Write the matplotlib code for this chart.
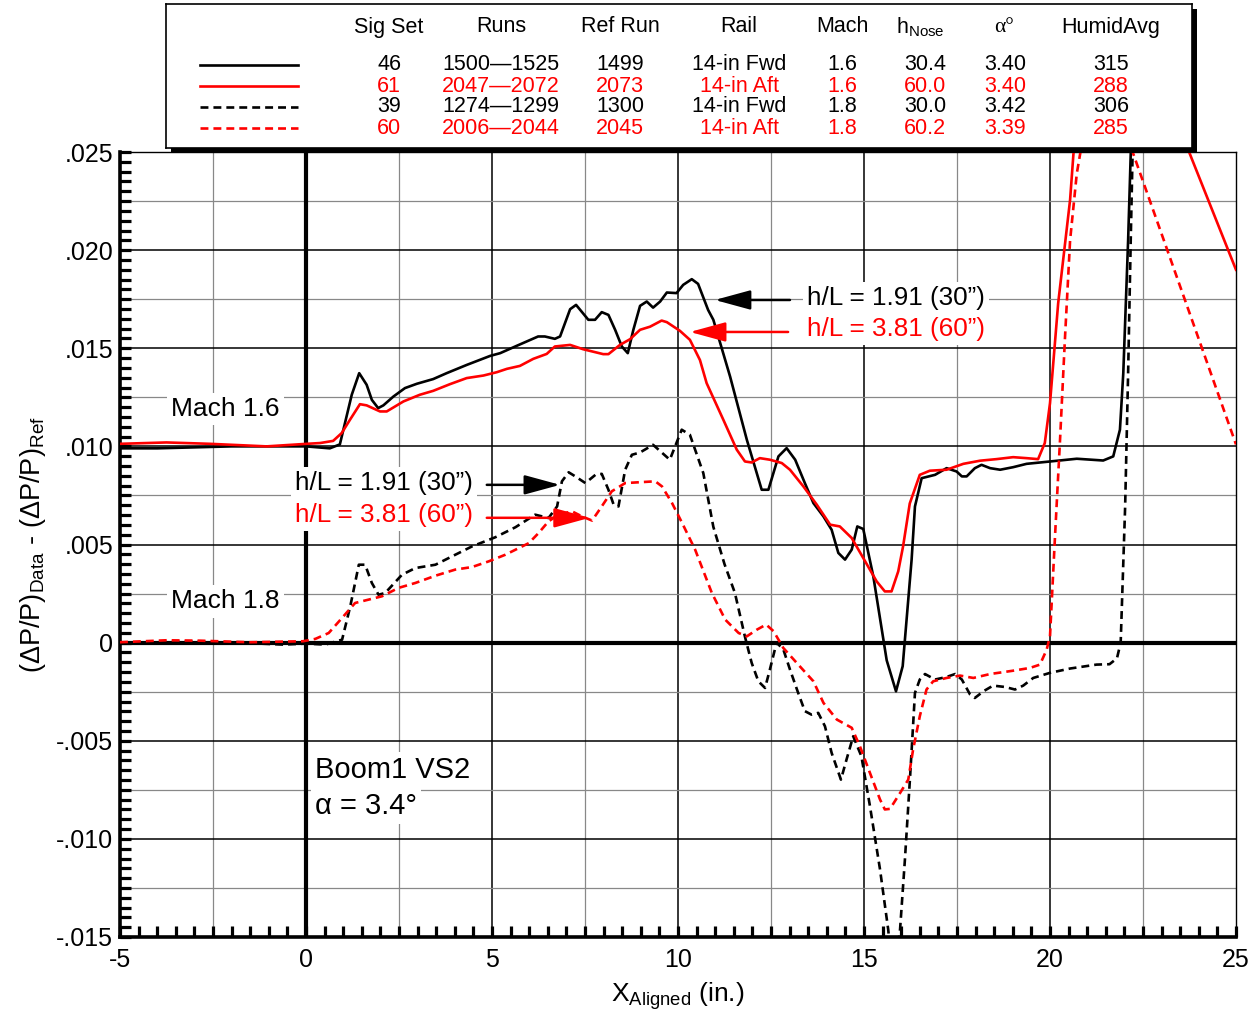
import matplotlib
matplotlib.use('Agg')
import matplotlib.pyplot as plt
from matplotlib.patches import Rectangle
from matplotlib.ticker import MultipleLocator, FixedLocator, FixedFormatter

plt.rcParams['font.family'] = ['Liberation Sans', 'DejaVu Sans']
plt.rcParams['mathtext.fontset'] = 'custom'
plt.rcParams['mathtext.rm'] = 'Liberation Sans'
plt.rcParams['mathtext.it'] = 'Liberation Sans:italic'
plt.rcParams['mathtext.bf'] = 'Liberation Sans:bold'
plt.rcParams['axes.unicode_minus'] = False

# --- data ---
# Mach 1.6, h = 30 in (sig set 46), black solid
x_m16_30 = [-5, -4, -3, -2, -1, 0, 0.64, 0.91, 1.23, 1.43, 1.63, 1.77, 1.94, 2.08, 2.35,
            2.66, 2.98, 3.42, 3.78, 4.32, 4.95, 5.22, 5.66, 6.24, 6.42, 6.69, 6.83, 7.10,
            7.26, 7.59, 7.77, 7.95, 8.13, 8.31, 8.49, 8.65, 8.80, 8.98, 9.16, 9.33, 9.52,
            9.70, 9.96, 10.14, 10.37, 10.54, 10.81, 10.95, 11.40, 11.85, 12.25, 12.43,
            12.70, 12.92, 13.15, 13.41, 13.64, 13.91, 14.13, 14.31, 14.49, 14.67, 14.82,
            14.98, 15.25, 15.61, 15.86, 16.04, 16.28, 16.37, 16.55, 16.91, 17.22, 17.49,
            17.63, 17.76, 17.98, 18.16, 18.39, 18.66, 19.01, 19.37, 20.0, 20.72, 21.43,
            21.70, 21.88, 21.97, 22.10, 22.17, 22.3]
y_m16_30 = [.0099, .0099, .00995, .0100, .0100, .0100, .0099, .0101, .01263, .01373, .01314,
            .01237, .01195, .01209, .01254, .01297, .01319, .01343, .01373, .01415, .01461,
            .01475, .01512, .0156, .0156, .01548, .0156, .01699, .01721, .01645, .01645,
            .01684, .0167, .01594, .01509, .01475, .01594, .01716, .01738, .01707, .01738,
            .01784, .01781, .01823, .01852, .01828, .01695, .01645, .01356, .01034, .00779,
            .00779, .00949, .00991, .00932, .00813, .00711, .00643, .00575, .00457, .00423,
            .00474, .00592, .00579, .00338, -.0009, -.00248, -.0012, .00423, .00694, .00838,
            .00855, .00889, .00872, .00847, .00847, .00889, .00906, .00889, .00881, .00894,
            .00911, .00923, .00937, .00928, .00949, .01085, .01373, .0205, .0249, .032]

# Mach 1.6, h = 60 in (sig set 61), red solid
x_m16_60 = [-5, -3.75, -2.58, -1.06, 0.02, 0.38, 0.73, 0.96, 1.18, 1.45, 1.63, 1.99, 2.17,
            2.62, 3.06, 3.42, 3.87, 4.32, 4.77, 5.13, 5.40, 5.75, 6.11, 6.47, 6.69, 7.10,
            7.45, 7.99, 8.13, 8.44, 8.71, 8.98, 9.25, 9.56, 9.70, 10.05, 10.32, 10.59,
            10.77, 11.22, 11.58, 11.80, 11.98, 12.20, 12.47, 12.79, 13.01, 13.37, 13.73,
            14.09, 14.35, 14.67, 14.98, 15.34, 15.56, 15.74, 15.92, 16.05, 16.23, 16.50,
            16.77, 17.22, 17.67, 18.12, 18.56, 19.01, 19.37, 19.68, 19.86, 20.0, 20.22,
            20.54, 20.63, 21.5, 23.76, 25]
y_m16_60 = [.01013, .0102, .01013, .0100, .01013, .01017, .01028, .01068, .01135, .01215,
            .01209, .01178, .01178, .01229, .01263, .01283, .01317, .01348, .01361, .01378,
            .01395, .0141, .01446, .01471, .01509, .01517, .01495, .0147, .0147, .01517,
            .01546, .01594, .0161, .01641, .01633, .01589, .01543, .0144, .01322, .01135,
            .00983, .00923, .00918, .0094, .00932, .00915, .00881, .00796, .00703, .00601,
            .00592, .00533, .00431, .00312, .00261, .00261, .00363, .0049, .00709, .00855,
            .00876, .00881, .00911, .00927, .00935, .00945, .0094, .00935, .01017, .0122,
            .0173, .02256, .0249, .035, .0249, .0190]

# Mach 1.8, h = 30 in (sig set 39), black dashed
x_m18_30 = [-5, -3, -1.24, -0.62, 0, 0.52, 0.97, 1.19, 1.42, 1.59, 1.77, 1.95, 2.13, 2.58,
            2.94, 3.48, 3.92, 4.46, 5.09, 5.63, 6.16, 6.52, 6.75, 6.88, 7.06, 7.24, 7.51,
            7.78, 7.95, 8.13, 8.27, 8.40, 8.58, 8.76, 8.98, 9.33, 9.78, 10.10, 10.32, 10.68,
            10.95, 11.25, 11.53, 11.80, 11.98, 12.16, 12.34, 12.47, 12.65, 12.83, 13.01,
            13.23, 13.41, 13.59, 13.77, 13.95, 14.13, 14.38, 14.53, 14.71, 14.93, 15.16,
            15.43, 15.65, 15.8, 15.97, 16.10, 16.24, 16.37, 16.50, 16.64, 16.91, 17.22,
            17.45, 17.63, 17.85, 17.98, 18.21, 18.47, 18.79, 19.06, 19.28, 19.55, 20.0,
            20.54, 21.25, 21.6, 21.8, 21.90, 22.02, 22.10, 22.17, 22.22, 22.3]
y_m18_30 = [0, .00005, -.00005, -.0001, -.00005, -.0001, .00015, .00185, .00397, .00397,
            .00304, .00244, .00253, .00346, .0038, .00397, .00439, .0049, .00537, .00588,
            .00652, .00635, .00694, .00822, .00868, .00847, .00813, .00855, .0086, .00779,
            .00703, .00694, .00881, .00957, .00969, .01008, .00932, .01085, .01059, .00864,
            .0059, .0040, .00253, .0003, -.00103, -.00197, -.00231, -.00137, 0, -.00034,
            -.00137, -.00256, -.00349, -.00367, -.00358, -.00426, -.00562, -.00698, -.00596,
            -.00477, -.00579, -.00833, -.01155, -.01461, -.0175, -.0146, -.01105, -.0068,
            -.00256, -.00188, -.0016, -.00188, -.00175, -.0016, -.00188, -.00264, -.00282,
            -.00248, -.00219, -.00226, -.00239, -.00219, -.0018, -.00154, -.00132, -.00112,
            -.0011, -.0008, 0, .00694, .01373, .0205, .0249, .032]

# Mach 1.8, h = 60 in (sig set 60), red dashed
x_m18_60 = [-5, -3.75, -2.85, -1.51, -0.08, 0.25, 0.61, 0.97, 1.32, 1.68, 2.04, 2.49, 2.94,
            3.48, 4.01, 4.46, 4.91, 5.36, 5.99, 6.25, 6.52, 6.79, 7.15, 7.42, 7.69, 7.95,
            8.22, 8.58, 9.03, 9.39, 9.57, 9.84, 10.11, 10.46, 10.91, 11.27, 11.63, 11.85,
            12.12, 12.37, 12.57, 12.83, 13.19, 13.64, 13.91, 14.27, 14.67, 14.89, 15.16,
            15.43, 15.56, 15.70, 15.97, 16.19, 16.32, 16.50, 16.68, 16.86, 17.22, 17.58,
            17.94, 18.39, 19.01, 19.46, 19.73, 19.91, 20.0, 20.13, 20.27, 20.40, 20.54,
            20.72, 20.81, 21.3, 22.24, 25]
y_m18_60 = [.00002, .00012, .0001, .00002, .00007, .00019, .00049, .00126, .00202, .00219,
            .00236, .00279, .00304, .00341, .00372, .00385, .00414, .00448, .00507, .00558,
            .00618, .00652, .00669, .00643, .00622, .00694, .00771, .00813, .00818, .00822,
            .00796, .00711, .0061, .00474, .00253, .00117, .00049, .00032, .00066, .00092,
            .00058, -.00027, -.00103, -.00197, -.00307, -.00392, -.00434, -.00528, -.00664,
            -.00799, -.0085, -.00847, -.00766, -.00698, -.00545, -.00375, -.00239, -.00197,
            -.0018, -.00168, -.0018, -.0016, -.00143, -.00129, -.00112, -.00036, .00032,
            .00524, .01034, .01543, .0205, .0239, .0249, .030, .0249, .0101]

x_ticks = [-5, 0, 5, 10, 15, 20, 25]
y_ticks = [-0.015, -0.010, -0.005, 0, 0.005, 0.010, 0.015, 0.020, 0.025]
y_tick_labels = ['-.015', '-.010', '-.005', '0', '.005', '.010', '.015', '.020', '.025']

# legend table
table_header = ['Sig Set', 'Runs', 'Ref Run', 'Rail', 'Mach', 'h$_{\\mathrm{Nose}}$', 'α°', 'HumidAvg']
table_rows = [
    ['46', '1500\u20141525', '1499', '14-in Fwd', '1.6', '30.4', '3.40', '315'],
    ['61', '2047\u20142072', '2073', '14-in Aft', '1.6', '60.0', '3.40', '288'],
    ['39', '1274\u20141299', '1300', '14-in Fwd', '1.8', '30.0', '3.42', '306'],
    ['60', '2006\u20142044', '2045', '14-in Aft', '1.8', '60.2', '3.39', '285'],
]
colors = ['black', 'red', 'black', 'red']
styles = ['-', '-', '--', '--']

fig = plt.figure(figsize=(12.6, 10.16), dpi=100)
ax = fig.add_axes([120 / 1260, 1 - 937 / 1016, 1116 / 1260, 785 / 1016])

# grid
for gx in [-2.5, 2.5, 7.5, 12.5, 17.5, 22.5]:
    ax.axvline(gx, color='#888888', lw=0.9, zorder=1)
for gx in [5, 10, 15, 20]:
    ax.axvline(gx, color='black', lw=1.1, zorder=1)
for gy in [-0.0125, -0.0075, -0.0025, 0.0025, 0.0075, 0.0125, 0.0175, 0.0225]:
    ax.axhline(gy, color='#888888', lw=0.9, zorder=1)
for gy in [-0.010, -0.005, 0.005, 0.010, 0.015, 0.020]:
    ax.axhline(gy, color='black', lw=1.1, zorder=1)
ax.axvline(0, color='black', lw=3, zorder=1.5)
ax.axhline(0, color='black', lw=3, zorder=1.5)

series = [(x_m16_30, y_m16_30), (x_m16_60, y_m16_60), (x_m18_30, y_m18_30), (x_m18_60, y_m18_60)]
for (xs, ys), c, ls in zip(series, colors, styles):
    line, = ax.plot(xs, ys, color=c, lw=1.9, ls=ls, zorder=4)
    if ls == '--':
        line.set_dashes((3, 1.9))

ax.set_xlim(-5, 25)
ax.set_ylim(-0.015, 0.025)
ax.xaxis.set_major_locator(FixedLocator(x_ticks))
ax.xaxis.set_minor_locator(MultipleLocator(0.5))
ax.yaxis.set_major_locator(FixedLocator(y_ticks))
ax.yaxis.set_major_formatter(FixedFormatter(y_tick_labels))
ax.yaxis.set_minor_locator(MultipleLocator(0.0005))
ax.tick_params(which='both', direction='in', length=8, width=2.3, top=False, right=False)
ax.tick_params(which='major', labelsize=18)
ax.tick_params(axis='y', which='major', pad=5)
ax.tick_params(axis='x', which='major', pad=8)
for s in ['left', 'bottom']:
    ax.spines[s].set_linewidth(2.6)
for s in ['top', 'right']:
    ax.spines[s].set_linewidth(1.0)

ax.set_xlabel('X$_{\\mathrm{Aligned}}$ (in.)', fontsize=19, labelpad=6)
ax.set_ylabel('(ΔP/P)$_{\\mathrm{Data}}$ - (ΔP/P)$_{\\mathrm{Ref}}$', fontsize=19.5, labelpad=6)

wbox = dict(facecolor='white', edgecolor='none', pad=3)

# annotations
ax.text(-3.63, 0.0119, 'Mach 1.6', fontsize=19, va='center', ha='left', bbox=wbox, zorder=3)
ax.text(-3.63, 0.0021, 'Mach 1.8', fontsize=19, va='center', ha='left', bbox=wbox, zorder=3)
ax.text(0.25, -0.00647, 'Boom1 VS2', fontsize=21, va='center', ha='left', bbox=wbox, zorder=3)
ax.text(0.25, -0.0083, 'α = 3.4°', fontsize=21, va='center', ha='left', bbox=wbox, zorder=3)

arrow_k = dict(arrowstyle='-|>,head_length=2.2,head_width=0.6', lw=1.8,
               shrinkA=0, shrinkB=0)
ax.text(13.47, 0.01757, 'h/L = 1.91 (30\u201d)', fontsize=18.8, va='center', ha='left',
        color='black', bbox=wbox, zorder=3)
ax.text(13.47, 0.01599, 'h/L = 3.81 (60\u201d)', fontsize=18.8, va='center', ha='left',
        color='red', bbox=wbox, zorder=3)
ax.annotate('', xy=(10.99, 0.01746), xytext=(13.01, 0.01746),
            arrowprops=dict(color='black', **arrow_k), zorder=5)
ax.annotate('', xy=(10.32, 0.01583), xytext=(12.96, 0.01583),
            arrowprops=dict(color='red', **arrow_k), zorder=5)

ax.text(-0.30, 0.00813, 'h/L = 1.91 (30\u201d)', fontsize=18.8, va='center', ha='left',
        color='black', bbox=wbox, zorder=3)
ax.text(-0.30, 0.00652, 'h/L = 3.81 (60\u201d)', fontsize=18.8, va='center', ha='left',
        color='red', bbox=wbox, zorder=3)
ax.annotate('', xy=(6.83, 0.00804), xytext=(4.86, 0.00804),
            arrowprops=dict(color='black', **arrow_k), zorder=5)
ax.annotate('', xy=(7.63, 0.00636), xytext=(4.86, 0.00636),
            arrowprops=dict(color='red', **arrow_k), zorder=5)

# legend box with drop shadow
shadow = Rectangle((171 / 1260, 1 - 153 / 1016), 1026 / 1260, 144 / 1016,
                   transform=fig.transFigure, facecolor='black', edgecolor='none', zorder=1)
fig.add_artist(shadow)
lax = fig.add_axes([166 / 1260, 1 - 148 / 1016, 1026 / 1260, 144 / 1016])
lax.set_zorder(2)
lax.set_xlim(166, 1192)
lax.set_ylim(148, 4)
lax.set_xticks([])
lax.set_yticks([])
for s in lax.spines.values():
    s.set_linewidth(1.2)

col_x = [389, 501, 620, 739, 842, 920, 1004, 1111]
val_x = [389, 501, 620, 739, 842, 925, 1005, 1111]
row_y = [65, 86, 107, 128]
for cx, h in zip(col_x, table_header):
    fam = ['Liberation Serif', 'DejaVu Serif'] if h.startswith('α') else None
    lax.text(cx, 27, h, fontsize=15.5, ha='center', va='center', family=fam)
for ry, row, c, ls in zip(row_y, table_rows, colors, styles):
    ln, = lax.plot([200, 298], [ry, ry], color=c, lw=1.9, ls=ls)
    if ls == '--':
        ln.set_dashes((3, 1.9))
    for cx, v in zip(val_x, row):
        lax.text(cx, ry, v, fontsize=15.5, ha='center', va='center', color=c)

fig.savefig('out.png', dpi=100)
